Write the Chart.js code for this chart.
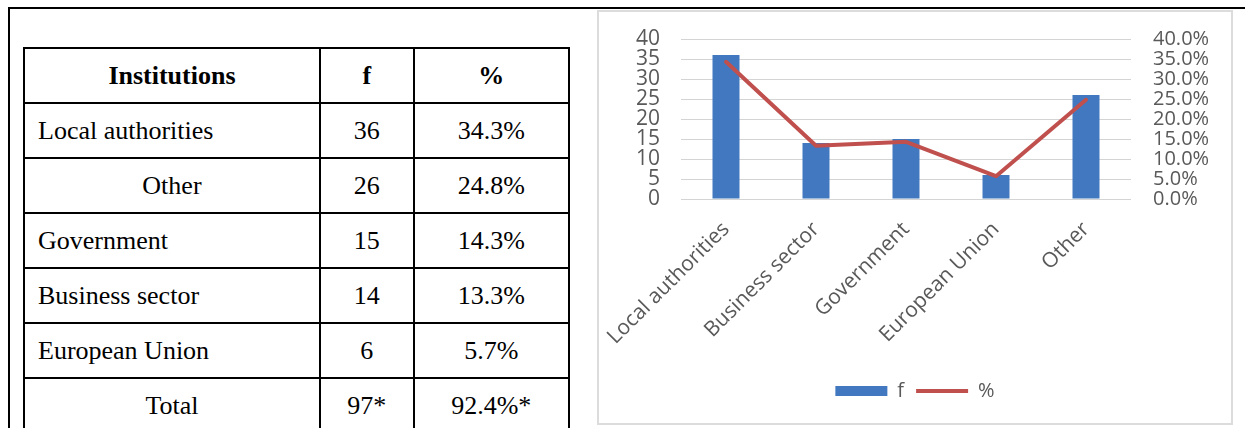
<!DOCTYPE html>
<html>
<head>
<meta charset="utf-8">
<script src="https://cdn.jsdelivr.net/npm/chart.js@4.4.1/dist/chart.umd.min.js"></script>
<style>
  html, body { margin: 0; padding: 0; background: #fff; }
  body { width: 1245px; height: 428px; position: relative; overflow: hidden; }
  .frame {
    position: absolute; left: 8px; top: 7px; width: 1260px; height: 440px;
    border-top: 2px solid #000; border-left: 2px solid #000;
  }
  table.data {
    position: absolute; left: 23px; top: 47px; width: 547px;
    border-collapse: collapse;
    font-family: "Liberation Serif", "Times New Roman", serif; font-size: 26px; color: #000;
  }
  table.data td, table.data th {
    border: 2px solid #000; height: 53px; padding: 0; line-height: 26px;
  }
  table.data th { font-weight: bold; text-align: center; }
  table.data td { text-align: center; }
  table.data td.left { text-align: left; padding-left: 13px; }
  .chartbox {
    position: absolute; left: 597px; top: 10px; width: 632px; height: 411px;
    border: 2px solid #dcdcdc; background: #fff;
  }
</style>
</head>
<body>
<div class="frame"></div>
<table class="data" id="tbl">
  <colgroup><col style="width:297px"><col style="width:94px"><col style="width:156px"></colgroup>
</table>
<div class="chartbox"><canvas id="chart"></canvas></div>

<script>
// table contents
const tableHeader = ['Institutions', 'f', '%'];
const tableNames = ['Local authorities', 'Other', 'Government', 'Business sector', 'European Union', 'Total'];
const tableF = ['36', '26', '15', '14', '6', '97*'];
const tablePct = ['34.3%', '24.8%', '14.3%', '13.3%', '5.7%', '92.4%*'];
const centeredNames = ['Other', 'Total'];

// chart data
const categories = ['Local authorities', 'Business sector', 'Government', 'European Union', 'Other'];
const fValues = [36, 14, 15, 6, 26];
const pctValues = [34.3, 13.3, 14.3, 5.7, 24.8];

const tbl = document.getElementById('tbl');
let head = '<tr>';
tableHeader.forEach(h => { head += '<th>' + h + '</th>'; });
tbl.insertAdjacentHTML('beforeend', head + '</tr>');
for (let i = 0; i < tableNames.length; i++) {
  const cls = centeredNames.includes(tableNames[i]) ? '' : ' class="left"';
  tbl.insertAdjacentHTML('beforeend',
    '<tr><td' + cls + '>' + tableNames[i] + '</td><td>' + tableF[i] + '</td><td>' + tablePct[i] + '</td></tr>');
}

const grey = '#595959';
const blue = '#4178c0';
const red = '#c0504d';

const data = {
  labels: categories,
  datasets: [
    {
      type: 'bar',
      label: 'f',
      data: fValues,
      backgroundColor: blue,
      borderColor: blue,
      borderWidth: 0,
      barPercentage: 0.3,
      categoryPercentage: 1.0,
      pointStyle: 'rect',
      yAxisID: 'y',
      order: 2
    },
    {
      type: 'line',
      label: '%',
      data: pctValues,
      borderColor: red,
      backgroundColor: red,
      borderWidth: 4,
      borderCapStyle: 'round',
      borderJoinStyle: 'round',
      pointRadius: 0,
      pointStyle: 'line',
      tension: 0,
      yAxisID: 'y1',
      order: 1
    }
  ]
};

// y axes: fixed widths, no extra padding above/below the plot
function fixY(width) {
  return (scale) => {
    scale.width = width;
    scale.paddingTop = 0;
    scale.paddingBottom = 0;
  };
}

const config = {
  data: data,
  options: {
    responsive: true,
    maintainAspectRatio: false,
    animation: false,
    layout: {
      padding: { top: 27, left: 0, right: 0, bottom: 12 }
    },
    plugins: {
      tooltip: { enabled: false },
      legend: {
        position: 'bottom',
        labels: {
          color: grey,
          usePointStyle: true,
          pointStyleWidth: 52,
          boxHeight: 10,
          padding: 12,
          font: { family: 'Open Sans', size: 20 },
          sort: (a, b) => a.datasetIndex - b.datasetIndex
        }
      }
    },
    scales: {
      x: {
        grid: { display: false, drawTicks: false },
        border: { display: false },
        ticks: {
          color: grey,
          maxRotation: 45,
          minRotation: 45,
          autoSkip: false,
          padding: 18,
          font: { family: 'Open Sans', size: 21 }
        },
        afterFit: (scale) => {
          scale.height = 170;
          // rotated first label may hang past the y axis, keep plot width fixed
          scale.paddingLeft = 0;
          scale.paddingRight = 0;
        }
      },
      y: {
        position: 'left',
        min: 0,
        max: 40,
        ticks: {
          stepSize: 5,
          autoSkip: false,
          color: grey,
          padding: 21,
          font: { family: 'Open Sans', size: 21 }
        },
        grid: { color: '#d4d4d4', lineWidth: 1, drawTicks: false },
        border: { display: false },
        afterFit: fixY(82)
      },
      y1: {
        position: 'right',
        min: 0,
        max: 40,
        ticks: {
          stepSize: 5,
          autoSkip: false,
          color: grey,
          padding: 22,
          font: { family: 'Open Sans', size: 20 },
          callback: (v) => v.toFixed(1) + '%'
        },
        grid: { display: false, drawTicks: false },
        border: { display: false },
        afterFit: fixY(100)
      }
    }
  }
};

const myChart = new Chart(document.getElementById('chart'), config);
</script>
</body>
</html>
